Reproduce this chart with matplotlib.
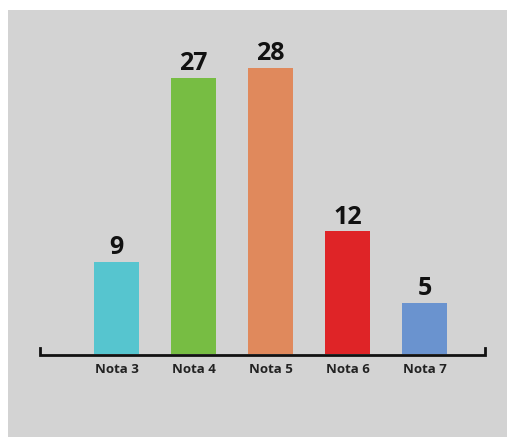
import matplotlib.pyplot as plt
from matplotlib.patches import Rectangle

# Data
categories = ['Nota 3', 'Nota 4', 'Nota 5', 'Nota 6', 'Nota 7']
values = [9, 27, 28, 12, 5]
colors = ['#56C5CF', '#77BD43', '#E0895C', '#DF2427', '#6A93CF']

W, H = 507, 437
fig = plt.figure(figsize=(W / 100, H / 100), dpi=100)
fig.patch.set_facecolor('white')

# gray panel behind the chart
fig.patches.append(Rectangle((8 / W, 0), 1, (H - 10) / H, transform=fig.transFigure,
                             facecolor='#D3D3D3', edgecolor='none', zorder=-1))

# axes placed in pixel terms: x 40..485, baseline at y=354 (from top)
ax = fig.add_axes([40 / W, 83 / H, 445 / W, 344 / H])
ax.set_facecolor('none')
ax.set_zorder(1)

x = list(range(len(categories)))
ax.bar(x, values, width=0.584, color=colors, zorder=2)

unit = 10.23  # px per value unit
ax.set_xlim(-76.5 / 77, 4 + 60.5 / 77)
ax.set_ylim(0, 344 / unit)

for xi, v in zip(x, values):
    ax.annotate(str(v), (xi, v), xytext=(0, 5.5), textcoords='offset points',
                ha='center', va='baseline', fontsize=18, fontweight='bold',
                family='Open Sans', color='#111111')

for s in ax.spines.values():
    s.set_visible(False)

# bracket-like baseline
x0, x1 = ax.get_xlim()
ax.plot([x0, x0, x1, x1], [0.6, -0.1, -0.1, 0.6], color='#111111', lw=2,
        clip_on=False, zorder=3, solid_joinstyle='miter')

ax.set_xticks(x)
ax.set_xticklabels(categories, fontsize=9.5, fontweight='bold', family='Open Sans',
                   color='#222222')
ax.tick_params(axis='x', length=0, pad=6.5)
ax.set_yticks([])

fig.savefig('out.png', dpi=100)
plt.close(fig)
